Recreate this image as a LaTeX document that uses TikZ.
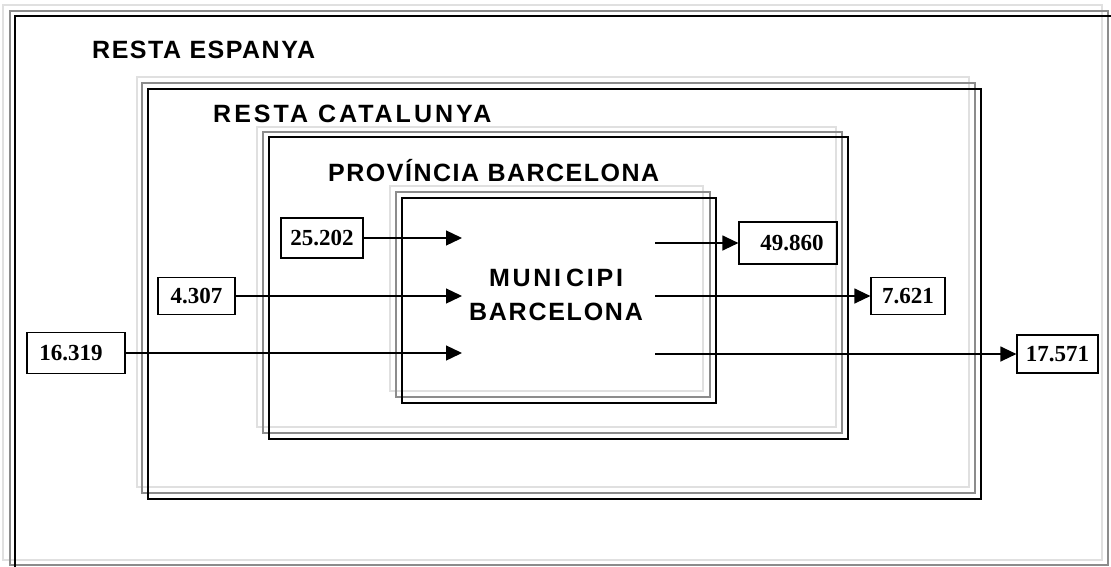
\documentclass[tikz,border=0pt]{standalone}
\usepackage{fontspec}
\setmainfont{Liberation Serif}
\newfontfamily\labelfont{Liberation Sans}
\usetikzlibrary{arrows.meta}
\begin{document}
\begin{tikzpicture}[x=1pt,y=-1pt,
  lightframe/.style={draw=black!12,line width=2.5pt},
  midframe/.style={draw=black!45,line width=2pt},
  darkframe/.style={draw=black,line width=1.6pt},
  region/.style={font=\labelfont\bfseries\fontsize{25}{34}\selectfont,inner sep=0pt},
  numbox/.style={draw,line width=1.2pt,font=\bfseries\fontsize{23}{24}\selectfont,inner sep=0pt,minimum height=40pt},
  flow/.style={line width=1.3pt,-{Triangle[length=16pt,width=15pt]}}]
\useasboundingbox (0,0) rectangle (1111,566);
% RESTA ESPANYA
\draw[lightframe] (3,5) rectangle (1102,560);
\draw[midframe] (10,11) rectangle (1108,565);
\draw[darkframe] (15,16) rectangle (1115,572);
% RESTA CATALUNYA
\draw[lightframe] (137,77) rectangle (969,487);
\draw[midframe] (142,83) rectangle (975,493);
\draw[darkframe] (148,89) rectangle (981,499);
% PROVINCIA
\draw[lightframe] (257,127) rectangle (836,427);
\draw[midframe] (263,132) rectangle (842,433);
\draw[darkframe] (269,137) rectangle (848,439);
% MUNICIPI
\draw[lightframe] (390,186) rectangle (703,391);
\draw[midframe] (396,192) rectangle (710,397);
\draw[darkframe] (402,198) rectangle (716,403);
% labels
\node[region,anchor=base west] (lre) at (92,58) {\addfontfeature{LetterSpace=6}RESTA ESPANYA};
\node[region,anchor=base west] (lrc) at (213,122) {\addfontfeature{LetterSpace=12}RESTA CATALUNYA};
\node[region,anchor=base west] (lpb) at (328,181) {\addfontfeature{LetterSpace=6}PROVÍNCIA BARCELONA};
\node[region,align=center] (lmb) at (556,295) {{\addfontfeature{LetterSpace=11}MUNI\kern5pt CIPI}\\{\addfontfeature{LetterSpace=7}BARCELONA}};
% number boxes
\node[numbox,minimum width=82pt] (a) at (322,238) {25.202};
\node[numbox,minimum width=77pt,minimum height=37pt] (b) at (196.5,296) {4.307};
\node[numbox,minimum width=98pt,minimum height=41pt] (c) at (76,353) {16.319\hspace*{10pt}};
\node[numbox,minimum width=98pt,minimum height=42pt] (d) at (788,243) {\hspace*{8pt}49.860};
\node[numbox,minimum width=74pt,minimum height=37pt] (e) at (908,296) {7.621};
\node[numbox,minimum width=81pt,minimum height=38pt] (f) at (1057.5,354) {17.571};
% arrow endpoints
\coordinate (ta) at (462,238);
\coordinate (tb) at (462,296);
\coordinate (tc) at (462,353);
\coordinate (sd) at (655,243);
\coordinate (se) at (655,296);
\coordinate (sf) at (655,354);
\draw[flow] (a) -- (ta);
\draw[flow] (b) -- (tb);
\draw[flow] (c) -- (tc);
\draw[flow] (sd) -- (d);
\draw[flow] (se) -- (e);
\draw[flow] (sf) -- (f);
\end{tikzpicture}
\end{document}
